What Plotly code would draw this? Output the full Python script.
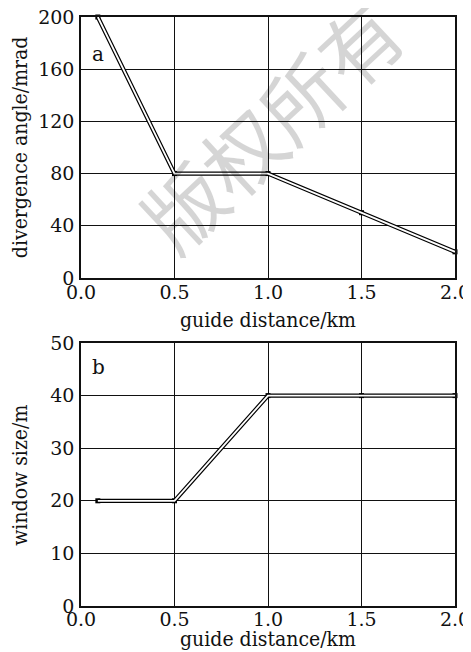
import plotly.graph_objects as go
from plotly.subplots import make_subplots

distance_a = [0.09, 0.5, 1.0, 1.5, 2.0]
divergence_mrad = [200, 80, 80, 50, 20]
distance_b = [0.09, 0.5, 1.0, 1.5, 2.0]
window_m = [20, 20, 40, 40, 40]
x_ticks = [0.0, 0.5, 1.0, 1.5, 2.0]
x_tick_text = ["0.0", "0.5", "1.0", "1.5", "2.0"]
ya_ticks = [0, 40, 80, 120, 160, 200]
yb_ticks = [0, 10, 20, 30, 40, 50]

FONT = "DejaVu Serif"
FONT_T = "DejaVu Serif Condensed"
INK = "#111"

fig = make_subplots(rows=2, cols=1, vertical_spacing=0.11)

for row, xs, ys in [(1, distance_a, divergence_mrad), (2, distance_b, window_m)]:
    fig.add_trace(go.Scatter(x=xs, y=ys, mode="lines+markers",
                             line=dict(color="black", width=4.2),
                             marker=dict(symbol="square", size=5, color="black"),
                             showlegend=False, hoverinfo="skip", cliponaxis=False), row=row, col=1)
    fig.add_trace(go.Scatter(x=xs, y=ys, mode="lines",
                             line=dict(color="white", width=1.8),
                             showlegend=False, hoverinfo="skip", cliponaxis=False), row=row, col=1)

axis_common = dict(showgrid=True, gridcolor=INK, gridwidth=1.3,
                   showline=True, linecolor=INK, linewidth=1.5, mirror=True,
                   zeroline=False, ticks="", automargin=False,
                   ticklabeloverflow="allow",
                   tickfont=dict(family=FONT, size=19, color=INK))

fig.update_xaxes(range=[0, 2.0], tickvals=x_ticks, ticktext=x_tick_text,
                 ticklabelstandoff=-3, row=1, col=1, **axis_common)
fig.update_xaxes(range=[0, 2.0], tickvals=x_ticks, ticktext=x_tick_text,
                 ticklabelstandoff=-5, row=2, col=1, **axis_common)
fig.update_yaxes(range=[0, 200], tickvals=ya_ticks, ticklabelstandoff=1,
                 row=1, col=1, **axis_common)
fig.update_yaxes(range=[0, 50], tickvals=yb_ticks, ticklabelstandoff=1,
                 row=2, col=1, **axis_common)

fig.update_layout(
    width=463, height=644,
    margin=dict(l=73, r=16, t=9, b=46, autoexpand=False),
    plot_bgcolor="white", paper_bgcolor="white",
    xaxis=dict(domain=[0, 1]), yaxis=dict(domain=[0.557, 1.0]),
    xaxis2=dict(domain=[0, 1]), yaxis2=dict(domain=[0.0, 0.4465]),
)

title_font = dict(family=FONT_T, size=21, color=INK)
fig.add_annotation(x=0.5, y=0.557, xref="paper", yref="paper", yshift=-42,
                   text="guide distance/km", showarrow=False, font=title_font,
                   xanchor="center", yanchor="middle")
fig.add_annotation(x=0.5, y=0.0, xref="paper", yref="paper", yshift=-33,
                   text="guide distance/km", showarrow=False, font=title_font,
                   xanchor="center", yanchor="middle")
fig.add_annotation(x=0, y=0.779, xref="paper", yref="paper", xshift=-61,
                   text="divergence angle/mrad", showarrow=False, textangle=-90,
                   font=title_font, xanchor="center", yanchor="middle")
fig.add_annotation(x=0, y=0.221, xref="paper", yref="paper", xshift=-61,
                   text="window size/m", showarrow=False, textangle=-90,
                   font=title_font, xanchor="center", yanchor="middle")

fig.add_annotation(x=0.05, y=172, xref="x", yref="y", text="a", showarrow=False,
                   font=dict(family=FONT, size=20, color=INK), xanchor="left", yanchor="middle")
fig.add_annotation(x=0.05, y=45.5, xref="x2", yref="y2", text="b", showarrow=False,
                   font=dict(family=FONT, size=20, color=INK), xanchor="left", yanchor="middle")

fig.add_annotation(x=0.505, y=0.82, xref="paper", yref="paper", text="版权所有",
                   showarrow=False, textangle=-43, opacity=0.16,
                   xanchor="center", yanchor="middle",
                   font=dict(family="Noto Sans CJK SC", size=80, color="black"))

fig.write_html("out.html")
